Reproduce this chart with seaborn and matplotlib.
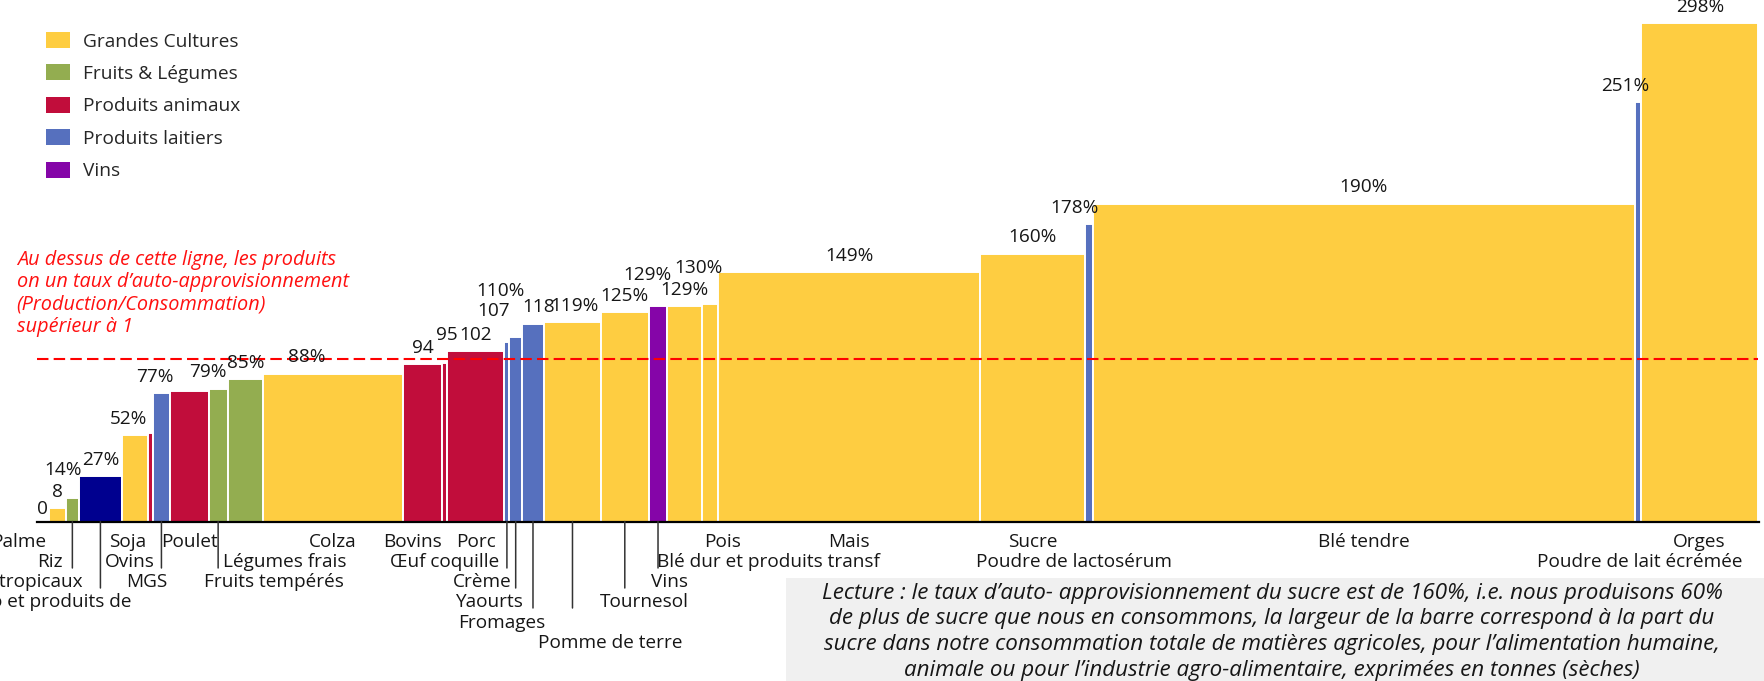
import numpy as np
import pandas as pd
import matplotlib.pyplot as plt
from matplotlib.patches import Patch, Rectangle
import seaborn as sns

sns.set_theme(style='white')
plt.rcParams['font.family'] = ['Open Sans', 'DejaVu Sans']

# --- data ---
produits = ['Palme', 'Riz', 'Fruits tropicaux', 'Cacao et produits de', 'Soja', 'Ovins', 'MGS',
            'Poulet', 'Fruits tempérés', 'Légumes frais', 'Colza', 'Bovins', 'Œuf coquille', 'Porc',
            'Crème', 'Yaourts', 'Fromages', 'Pomme de terre', 'Tournesol', 'Vins', 'Pois',
            'Blé dur et produits transf', 'Mais', 'Sucre', 'Poudre de lactosérum', 'Blé tendre',
            'Poudre de lait écrémée', 'Orges']
familles = ['Grandes Cultures', 'Grandes Cultures', 'Fruits & Légumes', 'Autres', 'Grandes Cultures',
            'Produits animaux', 'Produits laitiers', 'Produits animaux', 'Fruits & Légumes',
            'Fruits & Légumes', 'Grandes Cultures', 'Produits animaux', 'Produits animaux',
            'Produits animaux', 'Produits laitiers', 'Produits laitiers', 'Produits laitiers',
            'Grandes Cultures', 'Grandes Cultures', 'Vins', 'Grandes Cultures', 'Grandes Cultures',
            'Grandes Cultures', 'Grandes Cultures', 'Produits laitiers', 'Grandes Cultures',
            'Produits laitiers', 'Grandes Cultures']
# taux d'auto-approvisionnement (%)
taux = [0, 8, 14, 27, 52, 53, 77, 78, 79, 85, 88, 94, 95, 102, 107, 110, 118, 119, 125, 129, 129,
        130, 149, 160, 178, 190, 251, 298]
# part dans la consommation totale (%) -> largeur des barres
part_conso = [0.67, 1.02, 0.73, 2.53, 1.51, 0.26, 1.02, 2.24, 1.09, 2.09, 8.09, 2.29, 0.31, 3.31,
              0.29, 0.73, 1.28, 3.31, 2.77, 1.09, 1.99, 0.97, 15.21, 6.09, 0.45, 31.53, 0.31, 6.85]
etiquettes = ['0', '8', '14%', '27%', '52%', '', '77%', '', '79%', '85%', '88%', '94', '95', '102',
              '107', '110%', '118', '119%', '125%', '129%', '129%', '130%', '149%', '160%', '178%',
              '190%', '251%', '298%']
seuil = 97

legende = ['Grandes Cultures', 'Fruits & Légumes', 'Produits animaux', 'Produits laitiers', 'Vins']
couleurs = {'Grandes Cultures': '#FECD41', 'Fruits & Légumes': '#93AD50',
            'Produits animaux': '#C10D3B', 'Produits laitiers': '#5670BE',
            'Vins': '#8505A8', 'Autres': '#00008F'}

note_rouge = ["Au dessus de cette ligne, les produits",
              "on un taux d\u2019auto-approvisionnement",
              "(Production/Consommation)",
              "supérieur à 1"]
lecture = ["Lecture : le taux d\u2019auto- approvisionnement du sucre est de 160%, i.e. nous produisons 60%",
           "de plus de sucre que nous en consommons, la largeur de la barre correspond à la part du",
           "sucre dans notre consommation totale de matières agricoles, pour l\u2019alimentation humaine,",
           "animale ou pour l\u2019industrie agro-alimentaire, exprimées en tonnes (sèches)"]

# --- label layout (pixels) ---
val_dx = [0, 0, -9, 0, -7, 0, -7, 0, -10, 0, -26, 0, 2, 0, -13, -15, 6, 2, 0, -11, 0, -11, 0, 0,
          -14, 0, -13, 1]
val_dy = [13, 16, 28, 16, 16, 16, 16, 16, 17, 16, 17, 16, 28, 16, 31, 46, 17, 16, 16, 31, 16, 36,
          16, 17, 16, 17, 16, 16]
cat_row = [1, 2, 3, 4, 1, 2, 3, 1, 3, 2, 1, 1, 2, 1, 3, 4, 5, 6, 4, 3, 1, 2, 1, 1, 2, 1, 2, 1]
cat_dx = [3, -7, 10, 31, -8, -21, -15, 0, 56, 39, 0, -10, 0, 0, -25, -27, -31, 38, 20, 11, 38, 58,
          0, 0, -15, 0, 105, 0]
cat_ha = ['right', 'center', 'right', 'right'] + ['center'] * 22 + ['right', 'center']
leader = [0, 0, 3, 4, 0, 0, 3, 0, 3, 0, 0, 0, 0, 0, 3, 4, 5, 5, 4, 3, 0, 0, 0, 0, 0, 0, 0, 0]

df = pd.DataFrame({'produit': produits, 'famille': familles, 'taux': taux, 'part': part_conso})
df['gauche'] = df['part'].cumsum() - df['part']
df['centre'] = df['gauche'] + df['part'] / 2

W, H = 1765, 681
fig = plt.figure(figsize=(W / 100, H / 100), dpi=100)
ax = fig.add_axes([37 / W, 159.5 / H, 1721.5 / W, 501.9 / H])

ax.bar(df['gauche'], df['taux'], width=df['part'], align='edge',
       color=[couleurs[f] for f in df['famille']], edgecolor='white', linewidth=1.4)

ax.set_xlim(0, df['part'].sum())
ax.set_ylim(0, 300)
ax.set_xticks([])
ax.set_yticks([])
sns.despine(ax=ax, left=True)
ax.spines['bottom'].set_color('black')
ax.spines['bottom'].set_linewidth(1.6)
ax.set_facecolor('none')

ax.axhline(seuil, color='#FF0000', lw=1.5, ls=(0, (5.5, 2.5)), zorder=3)

fs = 13.7
for i, row in df.iterrows():
    if etiquettes[i]:
        ax.annotate(etiquettes[i], xy=(row['centre'], row['taux']), xytext=(val_dx[i], val_dy[i]),
                    textcoords='offset pixels', ha='center', va='center', fontsize=fs,
                    color='#161616', annotation_clip=False)
    ax.annotate(row['produit'], xy=(row['centre'], 0), xytext=(cat_dx[i], -20.2 * cat_row[i]),
                textcoords='offset pixels', ha=cat_ha[i], va='center', fontsize=fs,
                color='#161616', annotation_clip=False)
    if leader[i]:
        ax.annotate('', xy=(row['centre'], 0), xytext=(0, -(20 * (leader[i] - 1) + 6.5)),
                    textcoords='offset pixels', annotation_clip=False,
                    arrowprops=dict(arrowstyle='-', color='#333333', lw=1.1, shrinkA=0, shrinkB=0))

# legend
handles = [Patch(facecolor=couleurs[f], edgecolor='none', label=f) for f in legende]
fig.legend(handles=handles, loc='upper left', bbox_to_anchor=(45.7 / W, 1 - 32 / H),
           frameon=False, fontsize=13.8, handlelength=1.29, handleheight=0.91,
           handletextpad=0.65, labelspacing=0.72, borderpad=0, borderaxespad=0)

# red note
for k, ligne in enumerate(note_rouge):
    fig.text(16.7 / W, 1 - (260 + 22.2 * k) / H, ligne, color='#FF1010', fontsize=14.3,
             style='italic', ha='left', va='center')

# reading box
fig.patches.append(Rectangle((786 / W, 0), 1 - 786 / W, (H - 578) / H, transform=fig.transFigure,
                             facecolor='#F0F0F0', edgecolor='none', zorder=0))
for k, ligne in enumerate(lecture):
    fig.text(1272 / W, 1 - (593 + 25.8 * k) / H, ligne, color='#161616', fontsize=16.1,
             style='italic', ha='center', va='center')

fig.savefig('out.png', dpi=100, facecolor='white')
